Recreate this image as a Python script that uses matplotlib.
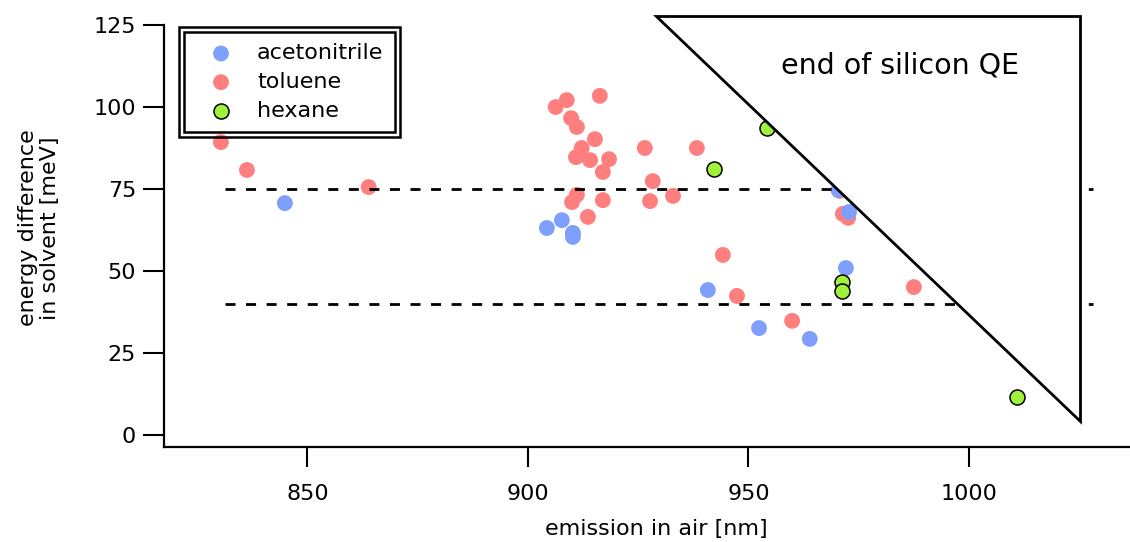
import matplotlib
matplotlib.use("Agg")
import matplotlib.pyplot as plt
from matplotlib.patches import Polygon, Rectangle

plt.rcParams['font.family'] = ['DejaVu Sans']

# ---- data ----
aceto_x = [844.9, 904.3, 907.7, 910.2, 910.2, 940.8, 952.4, 963.9, 972.1, 972.8, 970.4]
aceto_y = [70.7, 63.1, 65.5, 61.6, 60.4, 44.2, 32.6, 29.3, 50.9, 68.0, 74.7]

tol_x = [830.4, 836.3, 863.9, 906.3, 908.8, 916.3, 909.8, 911.1, 915.2, 912.2,
         910.9, 914.1, 918.4, 917.0, 926.5, 938.3, 928.3, 911.1, 910.0, 917.0,
         927.7, 932.9, 913.6, 944.2, 947.4, 959.9, 987.5, 970.7, 971.4, 972.6]
tol_y = [89.3, 80.8, 75.6, 100.0, 102.1, 103.4, 96.6, 93.9, 90.2, 87.5,
         84.7, 83.8, 84.1, 80.2, 87.5, 87.5, 77.4, 73.2, 71.0, 71.6,
         71.3, 72.9, 66.5, 54.9, 42.4, 34.8, 45.1, 74.4, 67.4, 66.2]

hex_x = [954.2, 942.2, 971.2, 971.2, 1010.9]
hex_y = [93.6, 81.1, 46.6, 43.9, 11.6]

threshold_levels = [75, 40]
threshold_x = [831.3, 1028.2]

triangle_x = [929.0, 1025.2, 1025.2]
triangle_y = [127.8, 127.8, 4.4]

xticks = [850, 900, 950, 1000]
yticks = [0, 25, 50, 75, 100, 125]

c_aceto = '#7f9fff'
c_tol = '#ff7f7f'
c_hex = '#a0f23c'

# ---- figure ----
W, H = 1130, 542
fig = plt.figure(figsize=(W / 100, H / 100), dpi=100)
ymin, ymax = -3.66, 130.0
ax = fig.add_axes([164 / W, (H - 447) / H, (W - 164) / W, (447 - 8.6) / H])
ax.set_xlim(817.5, 1036.5)
ax.set_ylim(ymin, ymax)

s = 130
ax.scatter(tol_x, tol_y, s=s, color=c_tol, edgecolors='none', zorder=2, label='toluene')
ax.scatter(aceto_x, aceto_y, s=s, color=c_aceto, edgecolors='none', zorder=3, label='acetonitrile')
ax.scatter(hex_x, hex_y, s=s * 0.9, color=c_hex, edgecolors='black', linewidths=1.1,
           zorder=4, label='hexane')

for lvl in threshold_levels:
    ax.plot(threshold_x, [lvl, lvl], color='black', lw=2.0, dashes=(3.6, 3.8), zorder=5)

tri = Polygon(list(zip(triangle_x, triangle_y)), closed=True, facecolor='white',
              edgecolor='black', lw=2.0, zorder=6, joinstyle='miter')
ax.add_patch(tri)
ax.text(984.4, 112.8, 'end of silicon QE', fontsize=20.5, ha='center', va='center', zorder=7)

# axes styling
for side in ['top', 'right']:
    ax.spines[side].set_visible(False)
ax.spines['left'].set_bounds(ymin, 125)
ax.spines['left'].set_linewidth(1.6)
ax.spines['bottom'].set_linewidth(1.6)
ax.set_xticks(xticks)
ax.set_yticks(yticks)
ax.tick_params(axis='both', direction='out', width=1.5, labelsize=16)
ax.tick_params(axis='y', length=15, pad=5)
ax.tick_params(axis='x', length=14.5, pad=12.5)

ax.set_xlabel('emission in air [nm]', fontsize=16)
ax.xaxis.set_label_coords(0.51, -0.164)
ax.set_ylabel('energy difference\nin solvent [meV]', fontsize=16, linespacing=1.1)
ax.yaxis.set_label_coords(-0.108, 0.5)

# legend (order: acetonitrile, toluene, hexane)
handles, labels = ax.get_legend_handles_labels()
order = [labels.index('acetonitrile'), labels.index('toluene'), labels.index('hexane')]
leg = ax.legend([handles[i] for i in order], [labels[i] for i in order],
                loc='upper left', bbox_to_anchor=(184 / W, 1 - 32 / H),
                bbox_transform=fig.transFigure, borderaxespad=0,
                fontsize=16, frameon=True, fancybox=False, framealpha=1,
                edgecolor='black', borderpad=0.51, labelspacing=0.39,
                handlelength=2.31, handletextpad=0.46, scatterpoints=1)
leg.get_frame().set_linewidth(1.8)
leg.set_zorder(10)

fig.canvas.draw()
bb = leg.get_frame().get_window_extent().transformed(fig.transFigure.inverted())
dx, dy = 5 / W, 5 / H
outer = Rectangle((bb.x0 - dx, bb.y0 - dy), bb.width + 2 * dx, bb.height + 2 * dy,
                  transform=fig.transFigure, fill=False, edgecolor='black', lw=1.8, zorder=11)
fig.patches.append(outer)

fig.savefig('out.png', dpi=100)
